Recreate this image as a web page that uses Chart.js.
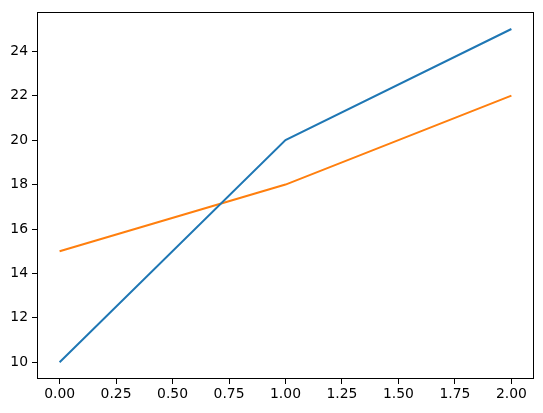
<!DOCTYPE html>
<html>
<head>
<meta charset="utf-8">
<script src="https://cdn.jsdelivr.net/npm/chart.js@4/dist/chart.umd.min.js"></script>
<style>
html,body{margin:0;padding:0;background:#fff;}
canvas{display:block;}
</style>
</head>
<body>
<canvas id="c" width="543" height="413"></canvas>
<script>
const xValues = [0, 1, 2];
const seriesA = [10, 20, 25];
const seriesB = [15, 18, 22];
const xTicks = [0, 0.25, 0.5, 0.75, 1.0, 1.25, 1.5, 1.75, 2.0];
const yTicks = [10, 12, 14, 16, 18, 20, 22, 24];

const toPoints = ys => xValues.map((x, i) => ({x: x, y: ys[i]}));

const frame = {
  id: 'frame',
  afterDraw(chart) {
    const a = chart.chartArea, ctx = chart.ctx;
    ctx.save();
    ctx.strokeStyle = '#000';
    ctx.lineWidth = 1;
    ctx.strokeRect(Math.round(a.left) + 0.5, Math.round(a.top) + 0.5,
                   Math.round(a.right - a.left) - 1, Math.round(a.bottom - a.top) - 1);
    ctx.restore();
  }
};

const font = {family: 'DejaVu Sans', size: 13.9};

new Chart(document.getElementById('c'), {
  type: 'line',
  data: {
    datasets: [
      {data: toPoints(seriesA), borderColor: '#1f77b4', borderWidth: 2, pointRadius: 0, tension: 0, fill: false},
      {data: toPoints(seriesB), borderColor: '#ff7f0e', borderWidth: 2, pointRadius: 0, tension: 0, fill: false}
    ]
  },
  options: {
    responsive: false,
    animation: false,
    layout: {padding: {left: 0, right: 9, top: 10, bottom: 0}},
    plugins: {legend: {display: false}, tooltip: {enabled: false}},
    scales: {
      x: {
        type: 'linear', min: -0.1, max: 2.1,
        afterBuildTicks: s => { s.ticks = xTicks.map(v => ({value: v})); },
        afterFit: s => { s.height = 34; },
        border: {display: false},
        grid: {drawOnChartArea: false, tickLength: 5, color: '#000', tickColor: '#000'},
        ticks: {color: '#000', font: font, padding: 2, maxRotation: 0, autoSkip: false,
                callback: v => v.toFixed(2)}
      },
      y: {
        type: 'linear', min: 9.25, max: 25.75,
        afterBuildTicks: s => { s.ticks = yTicks.map(v => ({value: v})); },
        afterFit: s => { s.width = 37; },
        border: {display: false},
        grid: {drawOnChartArea: false, tickLength: 5, color: '#000', tickColor: '#000'},
        ticks: {color: '#000', font: font, padding: 4, autoSkip: false,
                callback: v => String(v)}
      }
    }
  },
  plugins: [frame]
});
</script>
</body>
</html>
